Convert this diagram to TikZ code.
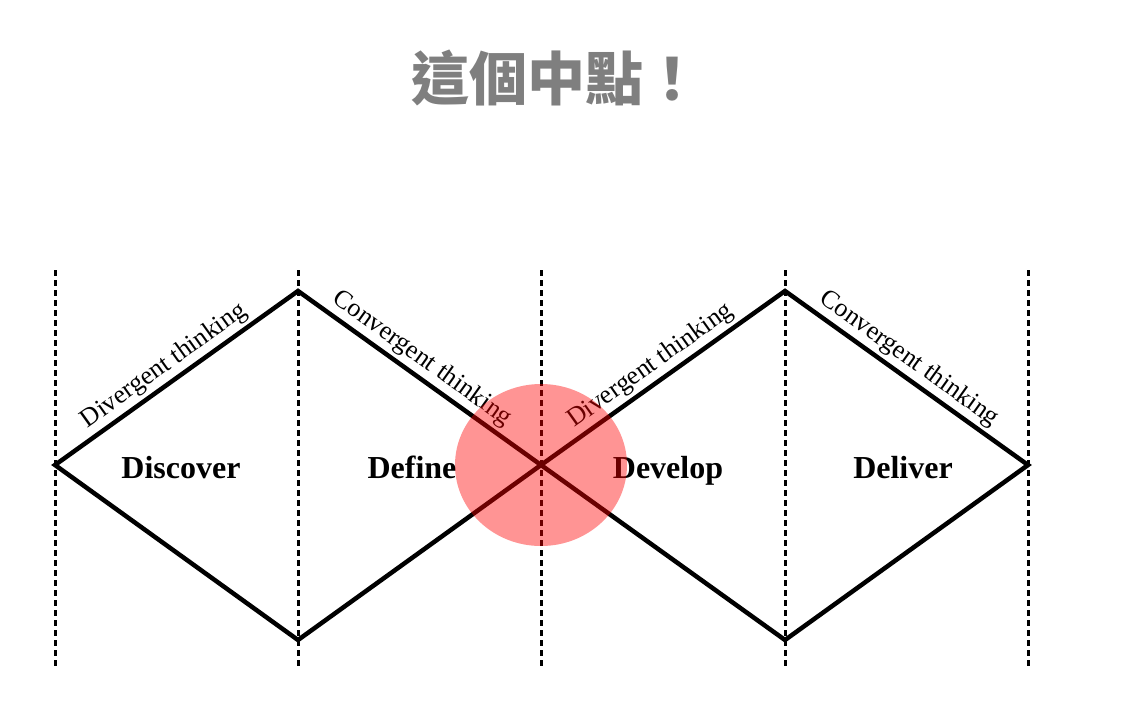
\documentclass[tikz,border=0pt]{standalone}
\usepackage{fontspec}
\setmainfont{Liberation Serif}
\newfontfamily\cjk{Noto Sans CJK TC}
\usetikzlibrary{positioning}
\definecolor{titlegray}{HTML}{7F7F7F}

\begin{document}
\begin{tikzpicture}[
  x=1pt, y=-1pt,
  phase/.style={dash pattern=on 6pt off 4pt, line width=3pt},
  edge/.style={line width=4.5pt, line join=miter},
  stage/.style={font=\fontsize{32}{34}\selectfont\bfseries, anchor=base},
  think/.style={font=\fontsize{26}{28}\selectfont, sloped, above=1pt, inner sep=2pt},
  spot/.style={fill=red, opacity=0.42}
]
\useasboundingbox (0,0) rectangle (1123,712);

% title
\node[font=\cjk\bfseries\fontsize{58}{62}\selectfont, text=titlegray] (title) at (556,78) {這個中點！};

% phase boundaries
\foreach \name/\x in {a/55, b/298, c/541, d/785, e/1028} {
  \coordinate (\name top) at (\x,270);
  \coordinate (\name bot) at (\x,666);
  \draw[phase] (\name top) -- (\name bot);
}

% diamond corners
\coordinate (w1) at (55,465);
\coordinate (n1) at (298,291);
\coordinate (s1) at (298,640);
\coordinate (mid) at (541,465);
\coordinate (n2) at (785,291);
\coordinate (s2) at (785,640);
\coordinate (e2) at (1028,465);

\draw[edge] (w1) -- node[think, pos=0.49] (div1) {Divergent thinking} (n1)
  -- node[think, pos=0.47] (con1) {Convergent thinking} (mid)
  -- (s1) -- cycle;
\draw[edge] (mid) -- node[think, pos=0.49] (div2) {Divergent thinking} (n2)
  -- node[think, pos=0.47] (con2) {Convergent thinking} (e2)
  -- (s2) -- cycle;

\node[stage] (discover) at (181,478) {Discover};
\node[stage] (define) at (412,478) {Define};
\node[stage] (develop) at (668,478) {Develop};
\node[stage] (deliver) at (903,478) {Deliver};

% highlight
\fill[spot] (mid) ellipse [x radius=86, y radius=81];
\end{tikzpicture}
\end{document}
